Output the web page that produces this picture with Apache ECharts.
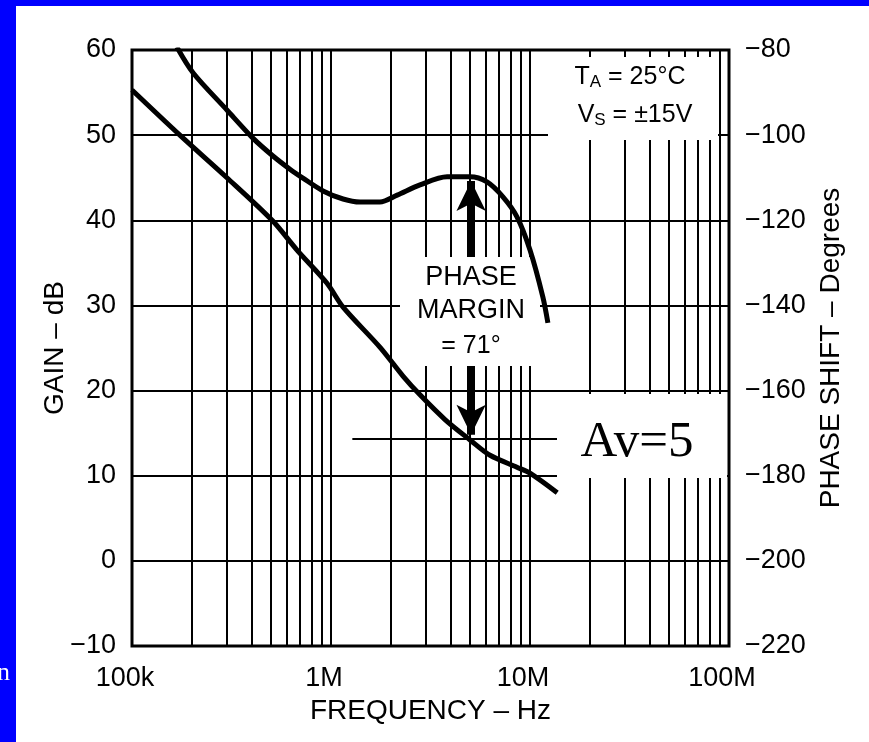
<!DOCTYPE html>
<html>
<head>
<meta charset="utf-8">
<script src="https://cdn.jsdelivr.net/npm/echarts@6/dist/echarts.min.js"></script>
<style>
  html, body { margin: 0; padding: 0; background: #fff; }
  #chart { width: 869px; height: 742px; }
</style>
</head>
<body>
<div id="chart"></div>
<script>
// gain curve, left axis (Hz, dB)
const gainFreq = [1e5, 1.74e5, 3.0e5, 5.06e5, 6.75e5, 9.55e5, 1.15e6, 1.76e6, 2.3e6, 2.8e6, 3.74e6, 5.0e6, 6.3e6, 8.6e6, 1.0e7, 1.37e7];
const gainDb = [55.3, 50, 45, 40, 36.5, 32.6, 29.8, 25.1, 21.7, 19.5, 16.6, 14.2, 12.4, 11.0, 10.3, 8.0];

// phase curve, right axis (Hz, degrees)
const phaseFreq = [1.68e5, 2.03e5, 3.0e5, 4.05e5, 5.11e5, 6.22e5, 7.23e5, 9.12e5, 1.15e6, 1.4e6, 1.76e6, 2.15e6, 2.8e6, 3.83e6, 4.99e6, 6.08e6, 7.31e6, 8.6e6, 1.0e7, 1.16e7, 1.23e7];
const phaseDeg = [-79.3, -85.4, -94.1, -100.7, -104.9, -108.0, -110.1, -113.1, -115.0, -115.7, -115.7, -114.1, -111.7, -109.8, -109.8, -111.0, -114.5, -119.2, -127.0, -138.0, -144.1];

// vertical log grid lines
const gridFreqs = [2e5, 3e5, 4e5, 5e5, 6e5, 7e5, 8e5, 9e5, 1e6,
                   2e6, 3e6, 4e6, 5e6, 6e6, 7e6, 8e6, 9e6, 1e7,
                   2e7, 3e7, 4e7, 5e7, 6e7, 7e7, 8e7, 9e7];
const xTickValues = [1e5, 1e6, 1e7, 1e8];
const xTickLabels = ['100k', '1M', '10M', '100M'];

// Av=5 reference line and phase margin arrow
const avGain = 14.4;
const avFreqs = [1.28e6, 1.37e7];
const pmFreq = 5.06e6;
const pmGains = [44.6, 14.8];

const FONT = "'Liberation Sans', Arial, sans-serif";

let myChart = echarts.init(document.getElementById('chart'));

let option = {
    animation: false,
    backgroundColor: '#fff',
    grid: {
        left: 132, top: 50, width: 597, height: 596,
        show: true, borderColor: '#000', borderWidth: 3,
        outerBoundsMode: 'none'
    },
    xAxis: {
        type: 'log', logBase: 10, min: 1e5, max: 1e8,
        name: 'FREQUENCY \u2013 Hz', nameLocation: 'middle', nameGap: 51,
        nameMoveOverlap: false,
        nameTextStyle: {color: '#000', fontSize: 28, fontFamily: FONT},
        axisLine: {show: false},
        axisTick: {show: false},
        splitLine: {show: false},
        axisLabel: {
            color: '#000', fontSize: 27, fontFamily: FONT, margin: 19,
            padding: [0, 14, 0, 0],
            formatter: v => {
                let i = xTickValues.findIndex(t => Math.abs(t - v) / t < 1e-6);
                return i < 0 ? '' : xTickLabels[i];
            }
        }
    },
    yAxis: [
        {
            type: 'value', min: -10, max: 60, interval: 10,
            name: 'GAIN \u2013 dB', nameLocation: 'middle', nameGap: 63, nameRotate: 90,
            nameMoveOverlap: false,
            nameTextStyle: {color: '#000', fontSize: 28, fontFamily: FONT},
            axisLine: {show: false},
            axisTick: {show: false},
            splitLine: {show: true, lineStyle: {color: '#000', width: 2}},
            axisLabel: {
                color: '#000', fontSize: 27, fontFamily: FONT, margin: 16,
                formatter: v => String(v).replace('-', '\u2212')
            }
        },
        {
            type: 'value', min: -220, max: -80, interval: 20, position: 'right',
            name: 'PHASE SHIFT \u2013 Degrees', nameLocation: 'middle', nameGap: 88, nameRotate: 90,
            nameMoveOverlap: false,
            nameTextStyle: {color: '#000', fontSize: 28, fontFamily: FONT},
            axisLine: {show: false},
            axisTick: {show: false},
            splitLine: {show: false},
            axisLabel: {
                color: '#000', fontSize: 27, fontFamily: FONT, margin: 16,
                formatter: v => String(v).replace('-', '\u2212')
            }
        }
    ],
    series: [
        {
            // decade/minor grid lines
            type: 'line', data: [], z: 1, silent: true,
            markLine: {
                z: 1, silent: true, symbol: 'none', animation: false,
                label: {show: false},
                lineStyle: {color: '#000', width: 2, type: 'solid'},
                emphasis: {disabled: true},
                data: gridFreqs.map(f => ({xAxis: f}))
            }
        },
        {
            // Av=5 line and the phase margin arrow
            type: 'line', data: [], z: 2, silent: true,
            markLine: {
                z: 2, silent: true, animation: false,
                label: {show: false},
                emphasis: {disabled: true},
                data: [
                    [
                        {coord: [avFreqs[0], avGain], symbol: 'none', lineStyle: {color: '#000', width: 2, type: 'solid'}},
                        {coord: [avFreqs[1], avGain], symbol: 'none'}
                    ],
                    [
                        {coord: [pmFreq, pmGains[0]], symbol: 'arrow', symbolSize: [22, 30], lineStyle: {color: '#000', width: 8, type: 'solid'}},
                        {coord: [pmFreq, pmGains[1]], symbol: 'arrow', symbolSize: [22, 30]}
                    ]
                ],
                itemStyle: {color: '#000'}
            }
        },
        {
            name: 'Gain', type: 'line', yAxisIndex: 0, z: 10,
            data: gainFreq.map((f, i) => [f, gainDb[i]]),
            symbol: 'none', smooth: 0.3, silent: true,
            lineStyle: {color: '#000', width: 5, cap: 'butt'}
        },
        {
            name: 'Phase', type: 'line', yAxisIndex: 1, z: 10,
            data: phaseFreq.map((f, i) => [f, phaseDeg[i]]),
            symbol: 'none', smooth: 0.3, silent: true,
            lineStyle: {color: '#000', width: 5, cap: 'butt'}
        }
    ],
    graphic: [
        // blue slide frame
        {type: 'rect', z: 0, shape: {x: 0, y: 0, width: 16, height: 742}, style: {fill: '#0000ff'}},
        {type: 'rect', z: 0, shape: {x: 0, y: 0, width: 869, height: 6}, style: {fill: '#0000ff'}},
        {type: 'text', z: 1, left: -3, top: 660, style: {text: 'n', fill: '#fff', fontSize: 26, fontFamily: "'Liberation Serif', serif"}},
        // white boxes behind the notes
        {type: 'rect', z: 4, shape: {x: 548, y: 57, width: 170, height: 83}, style: {fill: '#fff'}},
        {type: 'rect', z: 4, shape: {x: 400, y: 257, width: 140, height: 109}, style: {fill: '#fff'}},
        {type: 'rect', z: 4, shape: {x: 557, y: 394, width: 170, height: 84}, style: {fill: '#fff'}},
        // notes
        {
            type: 'text', z: 20, x: 630, y: 77,
            style: {
                text: '{m|T}{s|A}{m| = 25\u00b0C}',
                align: 'center', verticalAlign: 'middle',
                rich: {
                    m: {fontSize: 25, fontFamily: FONT, fill: '#000', lineHeight: 28, verticalAlign: 'middle'},
                    s: {fontSize: 17, fontFamily: FONT, fill: '#000', lineHeight: 14, verticalAlign: 'bottom'}
                }
            }
        },
        {
            type: 'text', z: 20, x: 635, y: 115,
            style: {
                text: '{m|V}{s|S}{m| = \u00b115V}',
                align: 'center', verticalAlign: 'middle',
                rich: {
                    m: {fontSize: 25, fontFamily: FONT, fill: '#000', lineHeight: 28, verticalAlign: 'middle'},
                    s: {fontSize: 17, fontFamily: FONT, fill: '#000', lineHeight: 14, verticalAlign: 'bottom'}
                }
            }
        },
        {type: 'text', z: 20, x: 471, y: 278, style: {text: 'PHASE', align: 'center', verticalAlign: 'middle', fontSize: 27, fontFamily: FONT, fill: '#000'}},
        {type: 'text', z: 20, x: 471, y: 311, style: {text: 'MARGIN', align: 'center', verticalAlign: 'middle', fontSize: 27, fontFamily: FONT, fill: '#000'}},
        {type: 'text', z: 20, x: 471, y: 346, style: {text: '= 71\u00b0', align: 'center', verticalAlign: 'middle', fontSize: 25, fontFamily: FONT, fill: '#000'}},
        {type: 'text', z: 20, x: 637, y: 468, style: {text: 'Av=5', align: 'center', verticalAlign: 'bottom', fontSize: 51, fontFamily: "'Liberation Serif', 'Times New Roman', serif", fill: '#000'}}
    ]
};

myChart.setOption(option);
</script>
</body>
</html>
